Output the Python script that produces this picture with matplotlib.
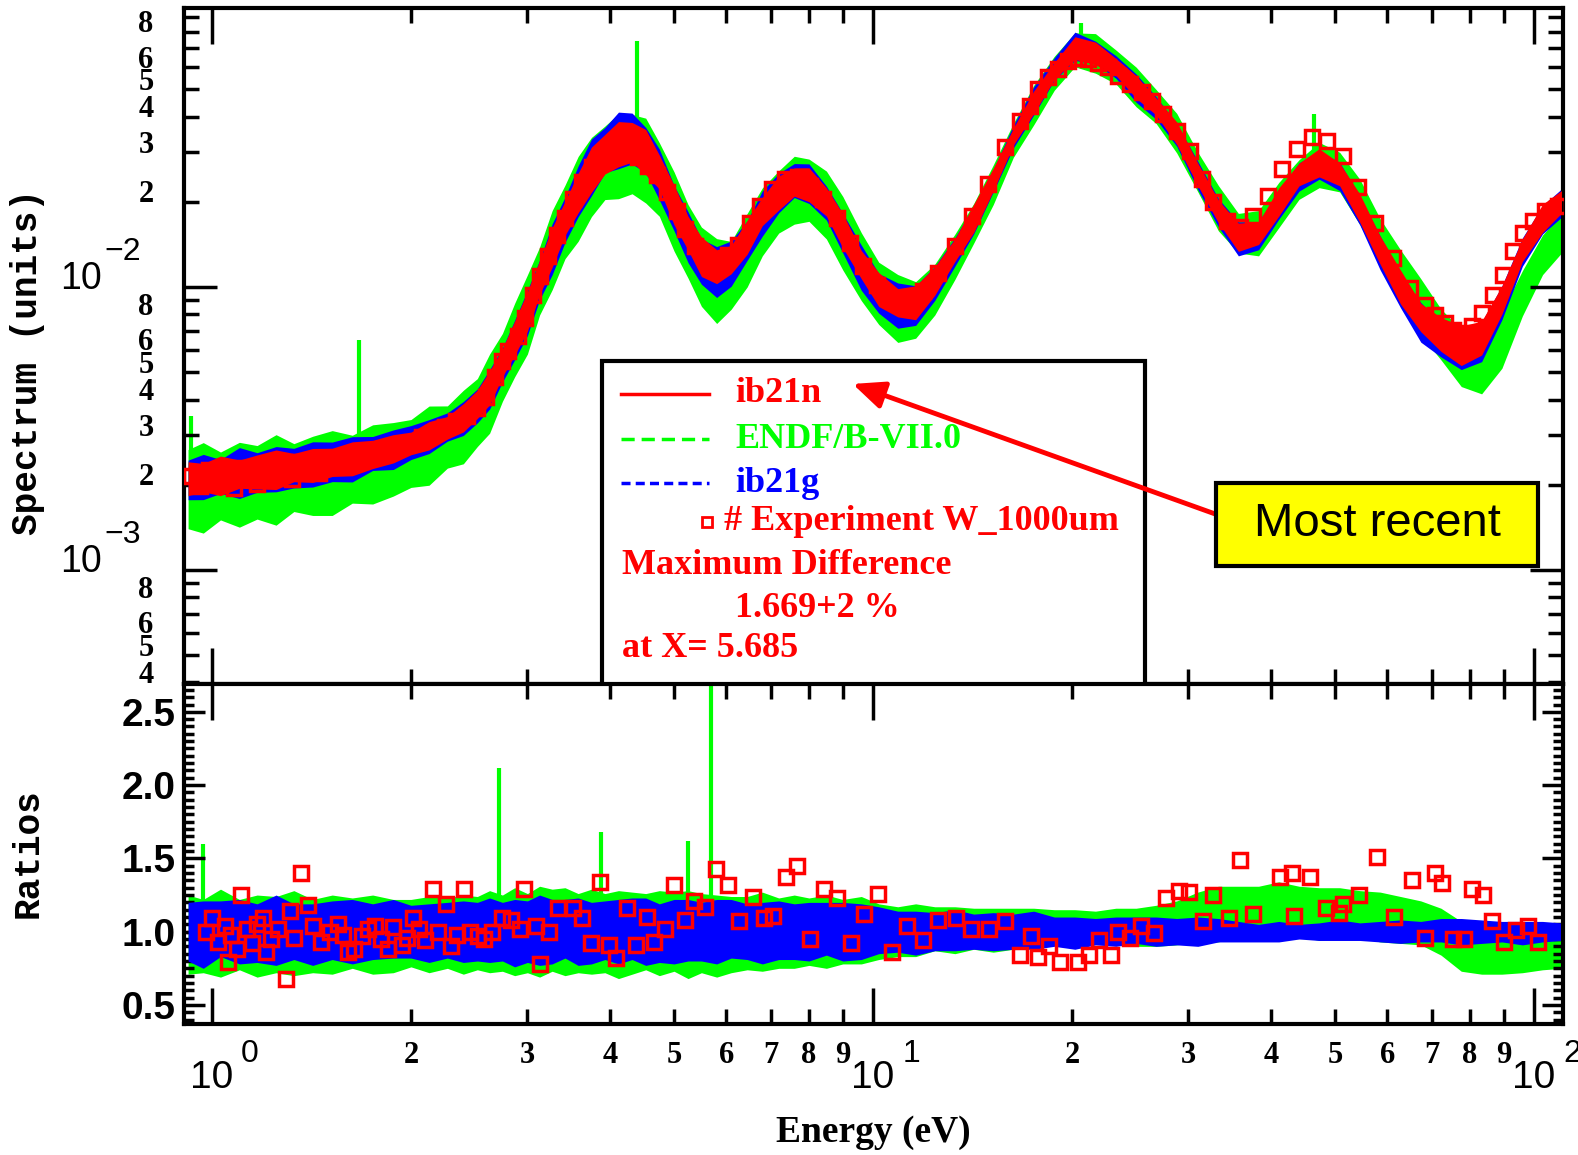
import numpy as np
import matplotlib
matplotlib.use('Agg')
import matplotlib.pyplot as plt
from matplotlib.patches import Rectangle, FancyArrowPatch
from matplotlib.lines import Line2D
from matplotlib.ticker import FixedLocator, FuncFormatter, MultipleLocator, NullFormatter

plt.rcParams['font.family'] = ['Liberation Serif', 'DejaVu Sans']
plt.rcParams['font.weight'] = 'bold'

RED = '#ff0000'
GREEN = '#00ff00'
BLUE = '#0000ff'

# energy grid (eV) of the computed spectra
energy = [0.92, 0.97, 1.03, 1.1, 1.17, 1.25, 1.33, 1.42, 1.52, 1.63, 1.75, 1.88, 2.0, 2.13,
          2.27, 2.4, 2.52, 2.63, 2.75, 2.87, 3.0, 3.13, 3.27, 3.42, 3.58, 3.75, 3.93, 4.12,
          4.32, 4.53, 4.75, 5.0, 5.25, 5.5, 5.8, 6.1, 6.45, 6.8, 7.2, 7.6, 8.0, 8.5, 9.0,
          9.6, 10.2, 10.9, 11.6, 12.4, 13.3, 14.2, 15.2, 16.3, 17.5, 18.8, 20.2, 21.7, 23.3,
          25.0, 26.8, 28.8, 31.0, 33.3, 35.7, 38.3, 41.1, 44.1, 47.3, 50.8, 54.5, 58.5, 62.8,
          67.4, 72.3, 77.6, 83.3, 89.4, 96.0, 103.0, 110.0]

# spectra, units of 1e-3
spec_ib21n = [2.10, 2.12, 2.15, 2.18, 2.22, 2.26, 2.30, 2.34, 2.40, 2.47, 2.56, 2.68, 2.80, 2.98,
              3.18, 3.45, 3.85, 4.40, 5.40, 6.60, 8.20, 10.8, 13.8, 17.5, 21.5, 26.0, 29.5, 32.0,
              32.5, 30.0, 25.5, 19.5, 15.5, 12.8, 11.8, 12.5, 15.0, 18.5, 21.5, 23.5, 23.0, 20.0,
              15.8, 12.0, 9.8, 8.8, 8.8, 10.5, 13.5, 17.5, 24.0, 34.0, 45.0, 58.0, 70.0, 67.0,
              60.0, 51.0, 43.5, 35.0, 25.0, 18.5, 15.0, 15.5, 20.0, 25.0, 27.5, 25.0, 19.0, 13.5,
              10.0, 7.8, 6.8, 6.2, 6.6, 9.0, 13.5, 17.5, 20.0]
spec_ib21g = [2.08, 2.13, 2.14, 2.2, 2.21, 2.27, 2.29, 2.36, 2.41, 2.46, 2.58, 2.66, 2.82, 2.96,
              3.2, 3.43, 3.8, 4.35, 5.3, 6.5, 8.1, 10.6, 13.6, 17.3, 21.8, 26.5, 30.5, 33.0,
              33.5, 30.5, 25.0, 19.0, 15.0, 12.3, 11.3, 12.1, 14.6, 18.2, 21.5, 23.8, 23.2, 19.8,
              15.5, 11.7, 9.5, 8.6, 8.6, 10.3, 13.3, 17.3, 23.8, 34.0, 45.5, 59.0, 71.0, 67.5,
              60.0, 50.5, 43.0, 34.5, 24.8, 18.3, 14.8, 15.2, 19.5, 24.5, 27.0, 24.6, 18.6, 13.2,
              9.7, 7.5, 6.5, 6.0, 6.4, 8.8, 13.3, 17.3, 19.8]
spec_endf = [1.93, 1.95, 1.98, 2.0, 2.04, 2.08, 2.12, 2.15, 2.2, 2.27, 2.36, 2.46, 2.58, 2.75,
             2.95, 3.2, 3.6, 4.2, 5.2, 6.5, 8.0, 10.5, 13.5, 17.0, 20.5, 24.5, 27.5, 29.0,
             29.5, 28.0, 24.0, 18.5, 14.5, 11.8, 10.5, 11.0, 13.5, 17.0, 20.0, 22.0, 22.0, 19.5,
             15.5, 11.8, 9.5, 8.4, 8.3, 9.8, 12.8, 16.8, 23.0, 33.0, 44.0, 57.0, 69.0, 67.0,
             60.0, 51.0, 43.5, 35.0, 25.5, 19.0, 15.5, 15.5, 19.5, 24.0, 27.0, 25.5, 20.0, 14.5,
             11.0, 8.5, 6.8, 5.6, 5.4, 6.5, 9.5, 13.0, 15.5]

# scatter half-widths of each spectrum (decades)
scat_ib21n = [0.06, 0.05, 0.07, 0.05, 0.06, 0.07, 0.05, 0.06, 0.05, 0.06, 0.05, 0.05, 0.04, 0.05,
              0.04, 0.05, 0.05, 0.06, 0.05, 0.06, 0.07, 0.06, 0.07, 0.06, 0.07, 0.08, 0.07, 0.08,
              0.07, 0.08, 0.06, 0.07, 0.06, 0.07, 0.06, 0.05, 0.06, 0.05, 0.06, 0.05, 0.06, 0.05,
              0.06, 0.05, 0.06, 0.05, 0.06, 0.05, 0.04, 0.05, 0.04, 0.03, 0.04, 0.03, 0.04, 0.04,
              0.03, 0.04, 0.03, 0.04, 0.04, 0.04, 0.05, 0.04, 0.05, 0.04, 0.05, 0.04, 0.05, 0.05,
              0.06, 0.05, 0.06, 0.07, 0.06, 0.05, 0.04, 0.05, 0.04]
scat_ib21g = [0.07, 0.08, 0.06, 0.09, 0.07, 0.08, 0.07, 0.08, 0.07, 0.08, 0.06, 0.07, 0.06, 0.06,
              0.05, 0.06, 0.06, 0.07, 0.06, 0.07, 0.08, 0.07, 0.09, 0.08, 0.09, 0.1, 0.08, 0.1,
              0.09, 0.08, 0.09, 0.08, 0.09, 0.08, 0.09, 0.08, 0.07, 0.08, 0.07, 0.06, 0.07, 0.06,
              0.07, 0.08, 0.07, 0.08, 0.07, 0.06, 0.05, 0.05, 0.04, 0.04, 0.05, 0.04, 0.05, 0.04,
              0.04, 0.05, 0.04, 0.04, 0.05, 0.05, 0.06, 0.05, 0.05, 0.05, 0.05, 0.05, 0.05, 0.06,
              0.06, 0.07, 0.06, 0.07, 0.07, 0.06, 0.05, 0.05, 0.05]
scat_endf = [0.14, 0.16, 0.12, 0.15, 0.13, 0.16, 0.12, 0.14, 0.15, 0.12, 0.14, 0.13, 0.12, 0.14,
             0.11, 0.13, 0.12, 0.14, 0.12, 0.13, 0.14, 0.12, 0.14, 0.13, 0.15, 0.14, 0.13, 0.15,
             0.14, 0.15, 0.13, 0.14, 0.13, 0.14, 0.15, 0.12, 0.13, 0.12, 0.11, 0.12, 0.11, 0.12,
             0.13, 0.12, 0.11, 0.12, 0.1, 0.09, 0.08, 0.07, 0.07, 0.06, 0.07, 0.06, 0.06, 0.07,
             0.06, 0.07, 0.06, 0.07, 0.07, 0.08, 0.07, 0.08, 0.08, 0.07, 0.08, 0.07, 0.08, 0.08,
             0.09, 0.1, 0.09, 0.1, 0.11, 0.1, 0.08, 0.07, 0.07]

# ratios to ib21n on the same grid
ratio_ib21n = [1.0] * 79
ratio_ib21g = [1.0, 0.98, 1.02, 1.0, 0.99, 1.01, 1.0, 0.98, 1.01, 1.0, 1.0, 1.02, 1.0, 0.99,
               1.01, 1.0, 1.0, 1.01, 1.0, 0.99, 1.0, 1.01, 1.0, 1.02, 1.0, 0.99, 1.01, 1.0,
               1.02, 1.0, 0.99, 1.0, 1.01, 1.0, 1.0, 1.02, 1.0, 0.99, 1.01, 1.0, 1.0, 1.02,
               1.0, 1.0, 1.01, 1.0, 0.99, 1.0, 1.01, 1.0, 1.0, 1.0, 1.01, 1.0, 0.99, 1.0,
               1.0, 1.01, 1.0, 1.0, 1.0, 1.01, 1.0, 0.99, 1.0, 1.0, 1.0, 1.01, 1.0, 1.0,
               1.0, 1.0, 1.01, 1.0, 1.0, 1.0, 0.99, 1.0, 1.0]
ratio_endf = [0.98, 0.97, 0.99, 0.98, 0.97, 0.98, 0.99, 0.97, 0.98, 0.99, 0.98, 0.97, 0.99, 0.98,
              0.99, 0.98, 0.99, 1.0, 0.99, 1.0, 0.99, 1.0, 1.01, 1.0, 0.99, 1.0, 0.99, 0.98,
              0.99, 1.0, 0.99, 1.0, 0.98, 0.99, 0.97, 0.98, 0.99, 1.0, 0.99, 1.0, 1.0, 1.0,
              1.0, 1.01, 1.0, 1.0, 1.01, 1.02, 1.01, 1.02, 1.01, 1.02, 1.03, 1.03, 1.02, 1.03,
              1.04, 1.03, 1.04, 1.06, 1.1, 1.12, 1.14, 1.13, 1.15, 1.14, 1.12, 1.13, 1.12, 1.1,
              1.08, 1.06, 1.0, 0.9, 0.86, 0.85, 0.85, 0.86, 0.86]
rscat_ib21g = [0.2, 0.23, 0.19, 0.22, 0.2, 0.24, 0.19, 0.21, 0.2, 0.22, 0.19, 0.2, 0.18, 0.2,
               0.19, 0.21, 0.2, 0.22, 0.2, 0.23, 0.21, 0.24, 0.22, 0.2, 0.23, 0.21, 0.2, 0.22,
               0.21, 0.23, 0.2, 0.22, 0.21, 0.2, 0.22, 0.2, 0.19, 0.21, 0.2, 0.19, 0.2, 0.18,
               0.2, 0.19, 0.16, 0.14, 0.15, 0.13, 0.14, 0.12, 0.13, 0.12, 0.13, 0.1, 0.11, 0.09,
               0.1, 0.09, 0.1, 0.09, 0.1, 0.08, 0.07, 0.06, 0.07, 0.05, 0.06, 0.07, 0.06, 0.07,
               0.08, 0.07, 0.08, 0.09, 0.08, 0.07, 0.08, 0.07, 0.06]
rscat_endf = [0.27, 0.25, 0.3, 0.24, 0.28, 0.26, 0.29, 0.25, 0.27, 0.24, 0.27, 0.25, 0.23, 0.26,
              0.24, 0.27, 0.25, 0.28, 0.26, 0.3, 0.27, 0.31, 0.28, 0.3, 0.27, 0.29, 0.27, 0.3,
              0.28, 0.26, 0.29, 0.27, 0.3, 0.27, 0.28, 0.26, 0.25, 0.27, 0.24, 0.25, 0.23, 0.25,
              0.22, 0.23, 0.19, 0.17, 0.18, 0.15, 0.16, 0.14, 0.15, 0.14, 0.13, 0.12, 0.13, 0.11,
              0.12, 0.13, 0.14, 0.15, 0.17, 0.19, 0.17, 0.18, 0.19, 0.17, 0.18, 0.17, 0.16, 0.17,
              0.16, 0.15, 0.16, 0.17, 0.15, 0.14, 0.13, 0.12, 0.11]

# isolated ENDF/B-VII.0 spikes
spike_E = [0.93, 1.67, 4.4, 20.6, 46.5]
spike_top = [3.5, 6.5, 74.0, 86.0, 41.0]
rspike_E = [0.97, 2.72, 3.88, 5.25, 5.685]
rspike_top = [1.6, 2.12, 1.68, 1.62, 2.75]

# experiment W_1000um (spectrum in 1e-3)
exp_E = [0.93, 0.96, 0.99, 1.02, 1.05, 1.08, 1.11, 1.14, 1.17, 1.2, 1.24, 1.28, 1.32, 1.36,
         1.4, 1.45, 1.5, 1.55, 1.6, 1.66, 1.72, 1.78, 1.85, 1.92, 2.0, 2.08, 2.16, 2.25,
         2.34, 2.43, 2.52, 2.6, 2.68,
         2.746, 2.804, 2.904, 2.976, 3.06, 3.135, 3.223, 3.325, 3.42, 3.517, 3.629, 3.757,
         3.864, 4.0, 4.142, 4.259, 4.41, 4.567, 4.712, 4.88, 5.053, 5.195, 5.379, 5.61, 5.808,
         6.034, 6.249, 6.515, 6.745, 7.034, 7.36, 7.7, 8.03, 8.4, 8.82, 9.23, 9.66, 10.14,
         10.61, 11.3, 11.9, 12.54, 13.31, 14.12, 14.93, 15.84, 16.69, 17.28, 17.77, 18.4,
         19.05, 19.72, 20.42, 21.15, 21.9, 22.68, 23.49, 24.48, 25.53, 26.43, 27.47, 28.84,
         30.17, 31.46, 32.69, 34.33, 35.92, 37.57, 39.6, 41.57, 43.8, 46.15, 48.63, 51.4,
         54.17, 57.48, 61.19, 64.93, 68.41, 70.83, 73.35, 75.42, 78.1, 80.6, 83.45, 86.7,
         89.8, 92.9, 96.2, 99.7, 103.9, 108.7]
exp_spec = [2.15, 1.98, 2.25, 2.05, 2.2, 1.95, 2.3, 2.12, 2.02, 2.35, 2.18, 2.28, 2.1, 2.4,
            2.25, 2.2, 2.45, 2.35, 2.4, 2.5, 2.55, 2.6, 2.68, 2.75, 2.82, 2.95, 3.05, 3.2,
            3.35, 3.5, 3.75, 4.1, 4.8,
            5.49, 5.96, 6.73, 7.78, 9.37, 10.94, 12.85, 15.23, 17.49, 20.56, 23.6, 26.6,
            28.8, 30.0, 30.3, 29.6, 28.8, 26.8, 24.8, 21.7, 18.65, 16.1, 13.93, 12.64, 12.14,
            12.95, 14.05, 16.79, 19.41, 22.28, 24.15, 24.55, 22.84, 20.56, 17.49, 14.29, 11.86, 10.16,
            9.14, 9.14, 9.68, 11.2, 13.93, 17.78, 23.2, 31.3, 38.7, 43.6, 50.1, 55.2,
            58.9, 62.8, 64.3, 63.8, 62.2, 59.8, 55.6, 52.1, 48.9, 45.4, 40.9, 35.6,
            30.3, 24.15, 20.0, 17.18, 16.37, 17.78, 21.0, 26.2, 30.8, 34.0, 32.9, 29.1,
            22.6, 16.79, 12.64, 9.91, 8.65, 7.98, 7.47, 7.06, 6.89, 7.29, 8.11, 9.37,
            11.02, 13.4, 15.49, 17.18, 18.65, 19.41]

# experiment / ib21n
rexp_E = [0.98, 1.0, 1.02, 1.048, 1.056, 1.07, 1.09, 1.106, 1.13, 1.15, 1.17, 1.196, 1.205,
          1.23, 1.26, 1.293, 1.312, 1.33, 1.365, 1.397, 1.42, 1.46, 1.51, 1.55, 1.58, 1.606,
          1.64, 1.684, 1.72, 1.764, 1.8, 1.849, 1.88, 1.938, 1.97, 2.013, 2.06, 2.1, 2.159,
          2.2, 2.262, 2.297, 2.35, 2.404, 2.46, 2.522, 2.58, 2.65,
          2.745, 2.834, 2.923, 2.967, 3.09, 3.135, 3.233, 3.335, 3.52, 3.63, 3.748, 3.868,
          3.99, 4.08, 4.24, 4.378, 4.55, 4.66, 4.84, 5.0, 5.19, 5.356, 5.56, 5.78, 6.03,
          6.28, 6.58, 6.84, 7.05, 7.39, 7.68, 8.04, 8.42, 8.82, 9.25, 9.69, 10.16, 10.67,
          11.26, 11.88, 12.54, 13.36, 14.09, 14.98, 15.82, 16.7, 17.35, 17.76, 18.46, 19.2,
          20.43, 21.2, 22.0, 22.87, 23.5, 24.5, 25.4, 26.6, 27.7, 29.0, 30.1, 31.6, 32.7,
          34.5, 35.9, 37.6, 41.2, 43.1, 43.3, 45.8, 48.5, 50.6, 51.4, 54.4, 57.8, 61.4,
          65.3, 68.3, 70.9, 72.5, 75.3, 78.3, 80.6, 83.8, 86.5, 90.1, 93.9, 97.9, 101.2]
rexp = [1.0, 1.09, 0.93, 1.04, 0.79, 0.98, 0.88, 1.25, 1.02, 0.92, 1.05, 1.09, 0.86,
        0.95, 1.02, 0.68, 1.14, 0.96, 1.40, 1.18, 1.04, 0.93, 1.0, 1.05, 0.98, 0.86,
        0.88, 0.97, 1.02, 1.04, 0.95, 0.88, 1.03, 0.91, 0.96, 1.09, 1.02, 0.94, 1.29,
        1.0, 1.19, 0.90, 0.98, 1.29, 1.0, 0.97, 0.95, 1.0,
        1.09, 1.08, 1.02, 1.29, 1.04, 0.78, 1.0, 1.16, 1.16, 1.09, 0.92, 1.34,
        0.91, 0.82, 1.16, 0.91, 1.10, 0.93, 1.02, 1.32, 1.08, 1.21, 1.17, 1.43, 1.32,
        1.07, 1.24, 1.09, 1.11, 1.37, 1.45, 0.95, 1.29, 1.23, 0.92, 1.12, 1.26, 0.86,
        1.04, 0.94, 1.08, 1.09, 1.02, 1.02, 1.07, 0.84, 0.97, 0.83, 0.90, 0.79,
        0.79, 0.84, 0.94, 0.84, 1.0, 0.96, 1.04, 0.99, 1.23, 1.28, 1.27, 1.07, 1.25,
        1.09, 1.49, 1.12, 1.37, 1.40, 1.11, 1.37, 1.16, 1.13, 1.19, 1.25, 1.51, 1.10,
        1.35, 0.96, 1.40, 1.33, 0.95, 0.95, 1.29, 1.25, 1.07, 0.93, 1.01, 1.04, 0.93]

E = np.array(energy)
milli = 1e-3

fig = plt.figure(figsize=(15.78, 11.55), dpi=100)
ax1 = fig.add_axes([0.1166, 0.4078, 0.8739, 0.5853])
ax2 = fig.add_axes([0.1166, 0.1134, 0.8739, 0.2944], sharex=ax1)

# --- spectra ---
for c, w, col, z in [(spec_endf, scat_endf, GREEN, 1), (spec_ib21g, scat_ib21g, BLUE, 2),
                     (spec_ib21n, scat_ib21n, RED, 3)]:
    c = np.array(c) * milli
    w = np.array(w)
    ax1.fill_between(E, c / 10 ** w, c * 10 ** w, color=col, lw=0, zorder=z)
ax1.vlines(spike_E, np.interp(spike_E, E, spec_endf) * milli, np.array(spike_top) * milli,
           color=GREEN, lw=3, zorder=1)
ax1.plot(exp_E, np.array(exp_spec) * milli, 's', ms=10, mfc='none', mec=RED, mew=2.5, zorder=4)

ax1.set_xscale('log')
ax1.set_yscale('log')
ax1.set_xlim(0.907, 110.6)
ax1.set_ylim(3.95e-4, 0.097)

# --- ratios ---
ax2.plot(E, ratio_ib21n, color=RED, lw=2.5, zorder=1.5)
for c, w, col, z in [(ratio_endf, rscat_endf, GREEN, 1), (ratio_ib21g, rscat_ib21g, BLUE, 2)]:
    c = np.array(c)
    w = np.array(w)
    ax2.fill_between(E, c - w, c + w, color=col, lw=0, zorder=z)
ax2.vlines(rspike_E, 1.0, rspike_top, color=GREEN, lw=3, zorder=1)
ax2.plot(rexp_E, rexp, 's', ms=10, mfc='none', mec=RED, mew=2.5, zorder=4)
ax2.set_ylim(0.37, 2.69)

# --- axes styling ---
decades = [1, 10, 100]
dec_minor = [k * 10 ** d for d in (0, 1) for k in range(2, 10)]
y_minor = [k * 10.0 ** d for d in (-4, -3, -2) for k in range(2, 10)]

for ax in (ax1, ax2):
    for sp in ax.spines.values():
        sp.set_linewidth(3)
    ax.xaxis.set_major_locator(FixedLocator(decades))
    ax.xaxis.set_minor_locator(FixedLocator(dec_minor))
    ax.tick_params(which='both', direction='in', top=True, right=True, width=2.5)
    ax.tick_params(axis='x', which='major', length=26)
    ax.tick_params(axis='x', which='minor', length=11)

ax1.tick_params(axis='x', which='both', labelbottom=False)
ax1.yaxis.set_major_locator(FixedLocator([1e-3, 1e-2]))
ax1.yaxis.set_minor_locator(FixedLocator(y_minor))
ax1.yaxis.set_major_formatter(NullFormatter())
ax1.yaxis.set_minor_formatter(NullFormatter())
ax1.tick_params(axis='y', which='major', length=24)
ax1.tick_params(axis='y', which='minor', length=11)

# log-axis labels written as in the original plotting package
sans = dict(family='Liberation Sans', fontweight='normal', textcoords='offset points',
            annotation_clip=False)
for d, v in zip([-3, -2], [1e-3, 1e-2]):
    ax1.annotate('10', xy=(0, v), xycoords=('axes fraction', 'data'), xytext=(-59, 6),
                 ha='right', va='center', fontsize=27, **sans)
    ax1.annotate('\u2212%d' % -d, xy=(0, v), xycoords=('axes fraction', 'data'), xytext=(-57, 25),
                 ha='left', va='center', fontsize=23, **sans)
ylo, yhi = ax1.get_ylim()
for v in y_minor:
    m = int(round(v / 10 ** np.floor(np.log10(v) + 1e-9)))
    if m in (2, 3, 4, 5, 6, 8) and ylo <= v <= yhi:
        ax1.annotate(str(m), xy=(0, v), xycoords=('axes fraction', 'data'), xytext=(-22, 5),
                     textcoords='offset points', ha='right', va='center', fontsize=22,
                     annotation_clip=False)

ax2.xaxis.set_major_formatter(NullFormatter())
ax2.xaxis.set_minor_formatter(FuncFormatter(lambda v, p: '%d' % round(v / 10 ** np.floor(np.log10(v) + 1e-9))))
ax2.tick_params(axis='x', which='minor', labelsize=22, pad=12)
for d, v in enumerate(decades):
    ax2.annotate('10', xy=(v, 0), xycoords=('data', 'axes fraction'), xytext=(0, -26),
                 ha='center', va='top', fontsize=28, **sans)
    ax2.annotate(str(d), xy=(v, 0), xycoords=('data', 'axes fraction'), xytext=(21, -11),
                 ha='left', va='top', fontsize=23, **sans)

ax2.yaxis.set_major_locator(MultipleLocator(0.5))
ax2.yaxis.set_minor_locator(MultipleLocator(0.05))
ax2.yaxis.set_major_formatter(FuncFormatter(lambda v, p: '%.1f' % v))
ax2.tick_params(axis='y', which='major', length=15, labelsize=28, labelfontfamily='Liberation Sans', pad=6)
ax2.tick_params(axis='y', which='minor', length=7)

fig.text(0.0177, 0.6866, 'Spectrum (units)', rotation=90, ha='center', va='center',
         family='Liberation Mono', fontsize=26, fontweight='bold')
fig.text(0.0177, 0.2615, 'Ratios', rotation=90, ha='center', va='center',
         family='Liberation Mono', fontsize=26, fontweight='bold')
fig.text(0.5532, 0.0199, 'Energy (eV)', ha='center', va='center', fontsize=27)

# --- legend box ---
ax1.add_patch(Rectangle((0.303, -0.01), 0.394, 0.488, transform=ax1.transAxes, fc='white',
                        ec='black', lw=3, zorder=10, clip_on=False))
lg = dict(transform=ax1.transAxes, zorder=11)
ax1.add_line(Line2D([0.317, 0.381], [0.429, 0.429], color=RED, lw=2.5, **lg))
ax1.add_line(Line2D([0.317, 0.381], [0.362, 0.362], color=GREEN, lw=2.5, ls=(0, (3.8, 2.0)), **lg))
ax1.add_line(Line2D([0.317, 0.381], [0.297, 0.297], color=BLUE, lw=2.5, ls=(0, (2.6, 1.5)), **lg))
ax1.add_line(Line2D([0.379], [0.240], marker='s', ms=7, mfc='none', mec=RED, mew=2, **lg))
txt = dict(transform=ax1.transAxes, fontsize=26, va='center', ha='left', zorder=11)
ax1.text(0.3996, 0.429, 'ib21n', color=RED, **txt)
ax1.text(0.3996, 0.362, 'ENDF/B-VII.0', color=GREEN, **txt)
ax1.text(0.3996, 0.297, 'ib21g', color=BLUE, **txt)
ax1.text(0.3916, 0.240, '# Experiment W_1000um', color=RED, **txt)
ax1.text(0.3176, 0.1746, 'Maximum Difference', color=RED, **txt)
ax1.text(0.3996, 0.1124, '1.669+2 %', color=RED, **txt)
ax1.text(0.3176, 0.0518, 'at X= 5.685', color=RED, **txt)

# --- annotation ---
fig.add_artist(FancyArrowPatch((0.7719, 0.5541), (0.5387, 0.6684), transform=fig.transFigure,
                               arrowstyle='-|>,head_length=0.8,head_width=0.35', mutation_scale=24,
                               color=RED, lw=3.5, zorder=20))
fig.add_artist(Rectangle((0.7706, 0.510), 0.2041, 0.072, transform=fig.transFigure,
                         fc='#ffff00', ec='black', lw=3, zorder=21))
fig.text(0.8726, 0.5463, 'Most recent', ha='center', va='center', family='Liberation Sans',
         fontweight='normal', fontsize=34, zorder=22)

fig.savefig('out.png', dpi=100)
